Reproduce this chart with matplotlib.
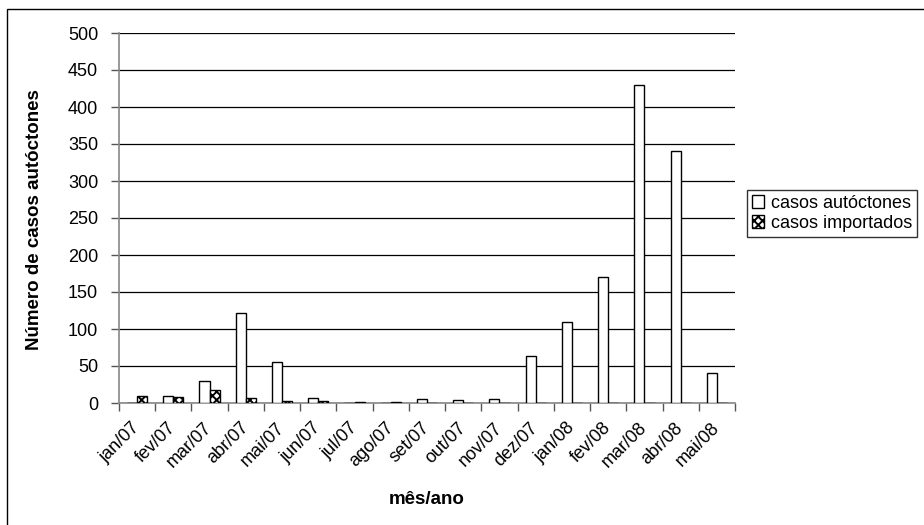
import matplotlib
matplotlib.use("Agg")
import matplotlib.pyplot as plt
import matplotlib.transforms as mtransforms
import numpy as np
from matplotlib.patches import Rectangle

plt.rcParams['font.family'] = ['Liberation Sans', 'DejaVu Sans']
plt.rcParams['hatch.linewidth'] = 1.4

months = ["jan/07", "fev/07", "mar/07", "abr/07", "mai/07", "jun/07", "jul/07",
          "ago/07", "set/07", "out/07", "nov/07", "dez/07", "jan/08", "fev/08",
          "mar/08", "abr/08", "mai/08"]
autoctones = [0, 9, 30, 122, 55, 7, 0, 0, 6, 4, 6, 63, 110, 170, 430, 340, 40]
importados = [10, 8, 18, 7, 3, 3, 1, 1, 0, 0, 0, 0, 0, 0, 0, 0, 0]

W, H = 924, 525
fig = plt.figure(figsize=(W / 100, H / 100), dpi=100)
ax = fig.add_axes([119 / W, 1 - 403 / H, (735 - 119) / W, (403 - 33) / H])

x = np.arange(len(months))
bw = 0.28
ax.bar(x - bw / 2, autoctones, bw, color='white', edgecolor='black', linewidth=1.0,
       label='casos autóctones', zorder=3)
ax.bar(x + bw / 2, importados, bw, color='white', edgecolor='black', linewidth=1.0,
       hatch='xxxx', label='casos importados', zorder=3)

ax.set_xlim(-0.5, len(months) - 0.5)
ax.set_ylim(0, 500)
ax.set_yticks(np.arange(0, 501, 50))
ax.yaxis.grid(True, color='black', linewidth=0.9, zorder=0)
ax.set_axisbelow(True)

FS = 13
ax.set_xticks(x)
ax.set_xticklabels(months, rotation=45, ha='right', va='center', rotation_mode='anchor',
                   fontsize=FS)
offset = mtransforms.ScaledTranslation(-8 / 100, 0, fig.dpi_scale_trans)
for lab in ax.get_xticklabels():
    lab.set_transform(lab.get_transform() + offset)
ax.set_xticks(np.arange(-0.5, len(months), 1), minor=True)
ax.tick_params(axis='x', which='major', length=0, pad=16)
ax.tick_params(axis='x', which='minor', length=6, width=1.0, color='#555555')
ax.tick_params(axis='y', labelsize=FS, length=6, width=1.0, color='#555555', pad=9)

for s in ['top', 'right']:
    ax.spines[s].set_visible(False)
ax.spines['left'].set_color('#888888')
ax.spines['bottom'].set_color('#888888')
ax.spines['left'].set_linewidth(1.2)
ax.spines['bottom'].set_linewidth(1.2)

fig.text(35 / W, 1 - 220 / H, 'Número de casos autóctones', rotation=90, fontsize=13.5,
         fontweight='bold', ha='center', va='center')
fig.text(427 / W, 1 - 500 / H, 'mês/ano', fontsize=13.5, fontweight='bold',
         ha='center', va='center')

# outer chart frame
fig.patches.append(Rectangle((7 / W, -0.1), 1.2, 1 - 9 / H + 0.1, transform=fig.transFigure,
                             fill=False, edgecolor='black', linewidth=1.0))

leg = fig.legend(loc='upper left', bbox_to_anchor=(747 / W, 1 - 190 / H), fontsize=FS,
                 frameon=True, fancybox=False, edgecolor='black', handlelength=0.7,
                 handleheight=0.7, handletextpad=0.4, borderpad=0.25, labelspacing=0.2,
                 borderaxespad=0)
leg.get_frame().set_linewidth(1.0)

fig.savefig('out.png', dpi=100)
